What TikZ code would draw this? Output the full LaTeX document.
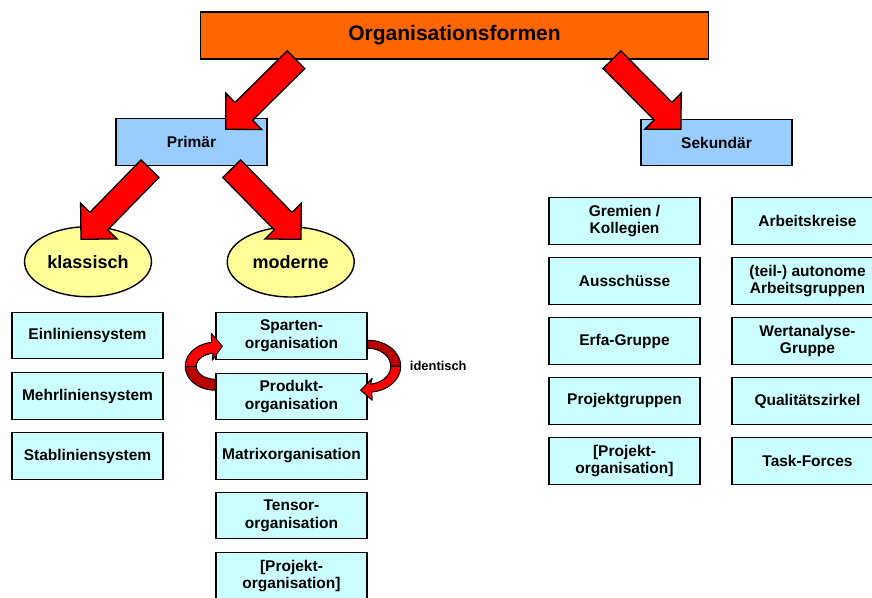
\documentclass[tikz,border=0pt]{standalone}
\usepackage{fontspec}
\setmainfont{Liberation Sans}
\usetikzlibrary{calc,shapes.geometric}

% block arrow from tail #1 to tip #2
\newcommand\bigarrow[2]{%
	\coordinate (hb) at ($(#2)!25.5pt!(#1)$);
	\draw[blockarrow] ($(#1)!12.5pt!90:(#2)$) -- ($(hb)!12.5pt!90:(#2)$) -- ($(hb)!25.5pt!90:(#2)$) -- (#2) -- ($(hb)!25.5pt!-90:(#2)$) -- ($(hb)!12.5pt!-90:(#2)$) -- ($(#1)!12.5pt!-90:(#2)$) -- cycle;}

\begin{document}
\begin{tikzpicture}[x=1pt,y=-1pt,
	box/.style={draw,line width=1.4pt,fill=boxcyan,minimum width=151pt,minimum height=46.5pt,inner sep=1pt,align=center,font=\fontsize{15.5}{17.8}\selectfont\bfseries},
	headbox/.style={box,fill=boxblue},
	oval/.style={draw,line width=1.4pt,fill=ovalyellow,ellipse,minimum width=127pt,minimum height=70pt,inner sep=0pt,font=\fontsize{18}{20}\selectfont\bfseries},
	blockarrow/.style={draw,line width=1.3pt,fill=red,line join=miter},
	ribbon/.style={draw,line width=1pt,line join=round}]
					\definecolor{boxcyan}{HTML}{CCFFFF}
					\definecolor{boxblue}{HTML}{99CCFF}
					\definecolor{ovalyellow}{HTML}{FFFF99}
					\definecolor{orgorange}{HTML}{FF6600}
					\definecolor{darkred}{HTML}{B80000}
					\useasboundingbox (0,0) rectangle (872,597);
					\clip (0,0) rectangle (872,597);
					
					% top level
					\node[box,fill=orgorange,minimum width=507.6pt,minimum height=47pt,font=\fontsize{21}{24}\selectfont\bfseries] (org) at (454.5,35.5) {Organisationsformen};
					\node[headbox] (prim) at (191.5,142) {Prim\"ar};
					\node[headbox] (sek) at (716.5,142.5) {Sekund\"ar};
					\node[oval] (klass) at (88,261.7) {klassisch};
					\node[oval] (mod) at (290.7,262) {moderne};
					
					% klassisch
					\node[box] (ein) at (87.5,335.5) {Einliniensystem};
					\node[box] (mehr) at (87.5,396) {Mehrliniensystem};
					\node[box] (stab) at (87.5,456) {Stabliniensystem};
					
					% moderne
					\node[box] (spart) at (291.5,336) {Sparten-\\organisation};
					\node[box] (prod) at (291.5,396.5) {Produkt-\\organisation};
					\node[box] (matrix) at (291.5,456) {Matrixorganisation};
					\node[box] (tensor) at (291.5,515.5) {Tensor-\\organisation};
					\node[box] (projm) at (291.5,576) {[Projekt-\\organisation]};
					\node[font=\fontsize{12.9}{15}\selectfont\bfseries] (ident) at (438.3,365.7) {identisch};
					
					% sekundaer
					\node[box] (grem) at (624.5,221) {Gremien /\\Kollegien};
					\node[box] (aus) at (624.5,281) {Aussch\"usse};
					\node[box] (erfa) at (624.5,341) {Erfa-Gruppe};
					\node[box] (projg) at (624.5,401) {Projektgruppen};
					\node[box] (projs) at (624.5,461) {[Projekt-\\organisation]};
					\node[box] (arbk) at (807.5,221) {Arbeitskreise};
					\node[box] (auto) at (807.5,281) {(teil-) autonome\\Arbeitsgruppen};
					\node[box] (wert) at (807.5,341) {Wertanalyse-\\Gruppe};
					\node[box] (qual) at (807.5,401) {Qualit\"atszirkel};
					\node[box] (task) at (807.5,461) {Task-Forces};
					
					% block arrows
					\coordinate (orgl) at (296,59.7);
					\coordinate (orgr) at (612,59.7);
					\coordinate (priml) at (150,168.7);
					\coordinate (primr) at (231.7,168.7);
					\coordinate (primtip) at (225.7,129.3);
					\coordinate (sektip) at (681,129.3);
					\coordinate (klasstip) at (81,239.3);
					\coordinate (modtip) at (301,239.3);
					\bigarrow{orgl}{primtip}
					\bigarrow{orgr}{sektip}
					\bigarrow{priml}{klasstip}
					\bigarrow{primr}{modtip}
					
					% curved arrows between sparten and produkt
					\begin{scope}[shift={($(spart.south west)!.5!(prod.north west)$)}]
						\filldraw[ribbon,fill=darkred] plot[domain=90:180,samples=20] ({30*cos(\x)},{24*sin(\x)}) -- plot[domain=180:90,samples=20] ({19*cos(\x)},{13*sin(\x)}) -- cycle;
						\filldraw[ribbon,fill=red] plot[domain=180:263,samples=20] ({30*cos(\x)},{24*sin(\x)}) -- (-4,-33) -- (7,-20) -- (-3,-6) -- plot[domain=263:180,samples=20] ({19*cos(\x)},{13*sin(\x)}) -- cycle;
					\end{scope}
					\begin{scope}[shift={($(spart.south east)!.5!(prod.north east)$)}]
						\filldraw[ribbon,fill=darkred] plot[domain=-90:0,samples=20] ({33*cos(\x)},{26*sin(\x)}) -- plot[domain=0:-90,samples=20] ({23*cos(\x)},{18*sin(\x)}) -- cycle;
						\filldraw[ribbon,fill=red] plot[domain=0:83,samples=20] ({33*cos(\x)},{26*sin(\x)}) -- (4.5,34) -- (-7,24) -- (4.5,12) -- plot[domain=83:0,samples=20] ({23*cos(\x)},{18*sin(\x)}) -- cycle;
					\end{scope}
				\end{tikzpicture}
\end{document}
